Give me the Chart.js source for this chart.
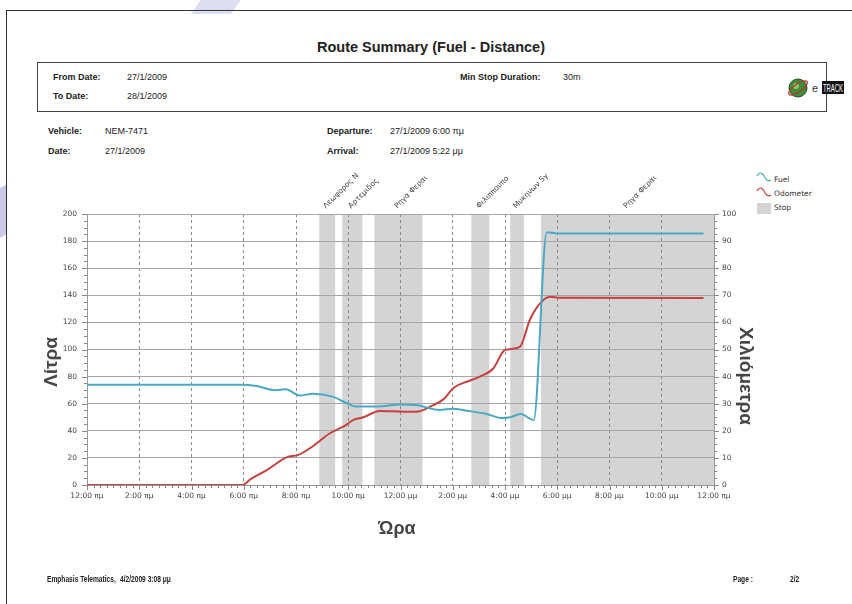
<!DOCTYPE html>
<html>
<head>
<meta charset="utf-8">
<script src="https://cdn.jsdelivr.net/npm/chart.js@4/dist/chart.umd.min.js"></script>
<style>
  body { margin: 0; background: #fff; }
  #page { position: relative; width: 852px; height: 604px; overflow: hidden; background: #fff; font-family: "Liberation Sans", Arial, sans-serif; color: #222; }
  #page canvas { position: absolute; left: 0; top: 0; }
  .t { position: absolute; white-space: nowrap; font-size: 9px; line-height: 10px; }
  .b { font-weight: bold; }
  .foot { font-size: 8.5px; transform: scaleX(0.78); transform-origin: left top; }
  .frameTop { position: absolute; left: 6px; top: 10px; width: 846px; height: 1px; background: #333; }
  .frameLeft { position: absolute; left: 6px; top: 10px; width: 1px; height: 594px; background: #333; }
  .box { position: absolute; left: 37px; top: 62px; width: 788px; height: 48px; border: 1px solid #444; }
  .axisTitle { position: absolute; font-family: "Liberation Sans", Arial, sans-serif; font-weight: bold; font-size: 19px; color: #444; white-space: nowrap; }
  .leg { position: absolute; font-family: "DejaVu Sans", sans-serif; font-size: 7.5px; color: #333; white-space: nowrap; }
  .wm { position: absolute; background: #dedef2; }
</style>
</head>
<body>
<div id="page">
  <div class="wm" style="left:200px; top:-12px; width:40px; height:26px; transform: skewX(-35deg);"></div>
  <div class="wm" style="left:-6px; top:188px; width:12px; height:50px; transform: skewY(-30deg); background:#cacae8;"></div>
  <div class="frameTop"></div>
  <div class="frameLeft"></div>

  <div class="t b" style="left:0; width:862px; text-align:center; top:39px; font-size:14.5px; line-height:16px;">Route Summary (Fuel - Distance)</div>

  <div class="box"></div>
  <div class="t b" style="left:53px; top:72px;">From Date:</div>
  <div class="t" style="left:127px; top:72px;">27/1/2009</div>
  <div class="t b" style="left:53px; top:91px;">To Date:</div>
  <div class="t" style="left:127px; top:91px;">28/1/2009</div>
  <div class="t b" style="left:460px; top:72px;">Min Stop Duration:</div>
  <div class="t" style="left:563px; top:72px;">30m</div>

  <svg style="position:absolute; left:786px; top:76px;" width="62" height="24">
    <circle cx="12" cy="12" r="9" fill="#3f8f3a" stroke="#1d4f1d" stroke-width="1"/>
    <circle cx="10" cy="10" r="3" fill="#8fc46a"/>
    <ellipse cx="12" cy="12" rx="11" ry="4" fill="none" stroke="#c0302a" stroke-width="1.2" transform="rotate(-35 12 12)"/>
    <text x="26" y="16" font-family="Liberation Sans, Arial" font-size="11" fill="#333">e</text>
    <rect x="36" y="5" width="22" height="13" fill="#111"/>
    <text x="37" y="15.5" font-family="Liberation Sans, Arial" font-size="10" textLength="20" lengthAdjust="spacingAndGlyphs" fill="#fff">TRACK</text>
  </svg>

  <div class="t b" style="left:48px; top:126px;">Vehicle:</div>
  <div class="t" style="left:105px; top:126px;">NEM-7471</div>
  <div class="t b" style="left:48px; top:146px;">Date:</div>
  <div class="t" style="left:105px; top:146px;">27/1/2009</div>
  <div class="t b" style="left:327px; top:126px;">Departure:</div>
  <div class="t" style="left:390px; top:126px;">27/1/2009 6:00 πμ</div>
  <div class="t b" style="left:327px; top:146px;">Arrival:</div>
  <div class="t" style="left:390px; top:146px;">27/1/2009 5:22 μμ</div>

  <svg style="position:absolute; left:756px; top:171px;" width="16" height="44">
    <path d="M1 5 C3 1, 6 1, 8 5 S12 11, 15 9" fill="none" stroke="#4aa9c3" stroke-width="1.2"/>
    <path d="M1 20 C3 16, 6 16, 8 20 S12 26, 15 24" fill="none" stroke="#c9403f" stroke-width="1.2"/>
    <rect x="1" y="32" width="14" height="11" fill="#d4d4d4"/>
  </svg>
  <div class="leg" style="left:774px; top:175px;">Fuel</div>
  <div class="leg" style="left:774px; top:189px;">Odometer</div>
  <div class="leg" style="left:774px; top:203px;">Stop</div>

  <canvas id="chart" width="852" height="604"></canvas>

  <div class="axisTitle" style="left:51px; top:362px; transform: translate(-50%, -50%) rotate(-90deg);">Λίτρα</div>
  <div class="axisTitle" style="left:746px; top:376px; transform: translate(-50%, -50%) rotate(90deg);">Χιλιόμετρα</div>
  <div class="axisTitle" style="left:397px; top:528px; transform: translate(-50%, -50%); font-size:18px;">Ώρα</div>

  <div class="t b foot" style="left:47px; top:574px;">Emphasis Telematics,</div>
  <div class="t b foot" style="left:120px; top:574px;">4/2/2009 3:08 μμ</div>
  <div class="t b foot" style="left:733px; top:574px;">Page :</div>
  <div class="t b foot" style="left:790px; top:574px;">2/2</div>
</div>

<script>
// hours since 12:00 am of 27/1/2009
const fuelHours = [0, 5.9, 6.5, 7.2, 7.6, 8.15, 8.65, 9.4, 9.95, 10.26, 11.1, 12.0, 12.6, 13.5, 14.0, 14.55, 15.3, 15.9, 16.2, 16.6, 17.1, 17.6, 18.0, 23.6];
const fuelLitres = [74, 74, 73, 70, 70.6, 66, 67.4, 65.2, 60.3, 58, 58, 59.5, 59, 55.4, 56.3, 54.8, 52.4, 49.4, 50, 52.4, 48, 186.5, 185.7, 185.7];

const odoHours = [0, 5.96, 6.24, 6.88, 7.64, 8.09, 8.66, 9.3, 9.81, 10.2, 10.58, 11.2, 12.0, 12.6, 13.26, 13.64, 14.05, 14.53, 15.04, 15.55, 16.0, 16.57, 16.95, 17.34, 17.72, 18.1, 23.6];
const odoKm = [0, 0, 2, 5.5, 10.2, 11.1, 14.4, 19.1, 21.5, 24, 25, 27.3, 27.1, 27, 29.5, 31.6, 36, 38.1, 40, 43, 49.8, 51, 60.9, 67, 69.5, 69.1, 69];

const stopStart = [8.89, 9.77, 11.0, 14.71, 16.2, 17.38];
const stopEnd = [9.50, 10.54, 12.84, 15.40, 16.73, 24];
const stopNames = ['Λεωφορος Ν', 'Αρτεμιδος', 'Ρηγα Φεραι', 'Φιλιππουπο', 'Μυκηνων Sy', 'Ρηγα Φεραι'];

const hourTicks = [0, 2, 4, 6, 8, 10, 12, 14, 16, 18, 20, 22, 24];

function hourLabel(h) {
  const hh = h % 12 === 0 ? 12 : h % 12;
  const ampm = (h < 12 || h === 24) ? 'πμ' : 'μμ';
  return hh + ':00 ' + ampm;
}

// grey stop bands, under the grid
const stopBands = {
  id: 'stopBands',
  beforeDraw(chart) {
    const { ctx, chartArea, scales } = chart;
    ctx.save();
    ctx.fillStyle = '#d4d4d4';
    stopStart.forEach((s, i) => {
      const x1 = scales.x.getPixelForValue(s);
      const x2 = scales.x.getPixelForValue(stopEnd[i]);
      ctx.fillRect(x1, chartArea.top, x2 - x1, chartArea.bottom - chartArea.top);
    });
    ctx.restore();
  },
  afterDraw(chart) {
    const { ctx, chartArea, scales } = chart;
    ctx.save();
    ctx.font = '7.5px "DejaVu Sans"';
    ctx.fillStyle = '#444';
    ctx.textBaseline = 'bottom';
    stopStart.forEach((s, i) => {
      const xc = scales.x.getPixelForValue((s + stopEnd[i]) / 2);
      ctx.save();
      ctx.translate(xc, chartArea.top - 4);
      ctx.rotate(-Math.PI / 4);
      ctx.fillText(stopNames[i], 0, 0);
      ctx.restore();
    });
    ctx.restore();
  }
};

// major and minor tick marks on the three axes
const tickMarks = {
  id: 'tickMarks',
  afterDraw(chart) {
    const { ctx, chartArea, scales } = chart;
    ctx.save();
    ctx.strokeStyle = '#888';
    ctx.lineWidth = 1;
    ctx.beginPath();
    for (let h = 0; h <= 24.001; h += 0.25) {
      const x = Math.round(scales.x.getPixelForValue(h)) + 0.5;
      const len = Math.abs(h % 2) < 0.001 ? 5 : 3;
      ctx.moveTo(x, chartArea.bottom);
      ctx.lineTo(x, chartArea.bottom + len);
    }
    for (let v = 0; v <= 200; v += 5) {
      const y = Math.round(scales.y.getPixelForValue(v)) + 0.5;
      const len = v % 20 === 0 ? 5 : 3;
      ctx.moveTo(chartArea.left, y);
      ctx.lineTo(chartArea.left - len, y);
    }
    for (let v = 0; v <= 100; v += 2.5) {
      const y = Math.round(scales.y2.getPixelForValue(v)) + 0.5;
      const len = v % 10 === 0 ? 5 : 3;
      ctx.moveTo(chartArea.right, y);
      ctx.lineTo(chartArea.right + len, y);
    }
    ctx.stroke();
    ctx.restore();
  }
};

Chart.defaults.font.family = '"DejaVu Sans", sans-serif';

new Chart(document.getElementById('chart'), {
  type: 'line',
  data: {
    datasets: [
      {
        label: 'Fuel',
        data: fuelHours.map((h, i) => ({ x: h, y: fuelLitres[i] })),
        borderColor: '#4aa9c3',
        borderWidth: 2,
        pointRadius: 0,
        cubicInterpolationMode: 'monotone',
        yAxisID: 'y'
      },
      {
        label: 'Odometer',
        data: odoHours.map((h, i) => ({ x: h, y: odoKm[i] })),
        borderColor: '#c9403f',
        borderWidth: 2,
        pointRadius: 0,
        cubicInterpolationMode: 'monotone',
        yAxisID: 'y2'
      }
    ]
  },
  options: {
    responsive: false,
    animation: false,
    layout: { padding: { top: 214, bottom: 99, left: 0, right: 0 } },
    plugins: { legend: { display: false }, tooltip: { enabled: false } },
    scales: {
      x: {
        type: 'linear',
        min: 0,
        max: 24,
        afterBuildTicks: axis => { axis.ticks = hourTicks.map(v => ({ value: v })); },
        afterFit: axis => { axis.height = 20; },
        ticks: { callback: v => hourLabel(v), font: { size: 7.5 }, color: '#444', maxRotation: 0, autoSkip: false, padding: 7 },
        grid: { color: '#8a8a8a', drawTicks: false },
        border: { display: true, color: '#999', dash: [3, 3] }
      },
      y: {
        position: 'left',
        min: 0,
        max: 200,
        afterFit: axis => { axis.width = 87; },
        ticks: { stepSize: 20, font: { size: 7.5 }, color: '#444', padding: 10 },
        grid: { color: '#a6a6a6', drawTicks: false },
        border: { display: true, color: '#999' }
      },
      y2: {
        position: 'right',
        min: 0,
        max: 100,
        afterFit: axis => { axis.width = 138; },
        ticks: { stepSize: 10, font: { size: 7.5 }, color: '#444', padding: 8 },
        grid: { drawOnChartArea: false, drawTicks: false },
        border: { display: true, color: '#999' }
      }
    }
  },
  plugins: [stopBands, tickMarks]
});
</script>
</body>
</html>
